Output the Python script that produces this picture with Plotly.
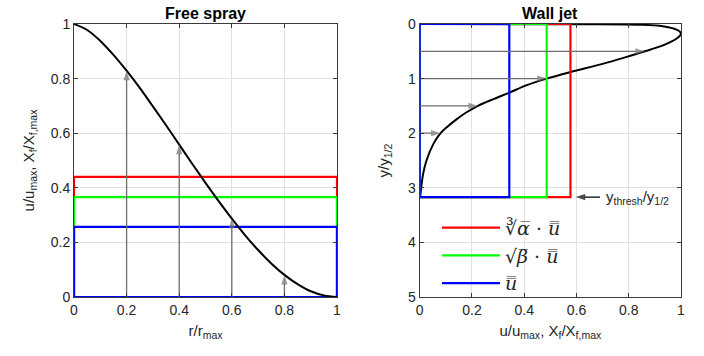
import numpy as np
import plotly.graph_objects as go
from plotly.subplots import make_subplots

# ---- Free spray: radial profile u/u_max vs r/r_max ----
spray_r = [0.0, 0.05, 0.10, 0.15, 0.20, 0.25, 0.30, 0.35, 0.40, 0.45, 0.50,
           0.55, 0.60, 0.65, 0.70, 0.75, 0.80, 0.85, 0.90, 0.95, 1.0]
spray_u = [1.0, 0.978, 0.938, 0.887, 0.829, 0.766, 0.698, 0.629, 0.558, 0.487, 0.418,
           0.351, 0.287, 0.227, 0.172, 0.123, 0.081, 0.047, 0.021, 0.006, 0.0]
spray_arrow_r = [0.2, 0.4, 0.6, 0.8]

# ---- Wall jet: wall-normal profile y/y_1/2 vs u/u_max ----
jet_y = [0.0, 0.005, 0.015, 0.04, 0.08, 0.12, 0.18, 0.26, 0.34, 0.42, 0.50, 0.62,
         0.73, 0.88, 1.0, 1.12, 1.26, 1.38, 1.50, 1.63, 1.76, 1.88, 2.0, 2.2, 2.5,
         2.75, 3.03, 3.17]
jet_u = [0.0, 0.60, 0.85, 0.93, 0.97, 0.99, 1.0, 0.985, 0.955, 0.915, 0.862, 0.78,
         0.70, 0.577, 0.486, 0.41, 0.342, 0.28, 0.223, 0.175, 0.137, 0.106, 0.080,
         0.052, 0.026, 0.013, 0.005, 0.002]
jet_arrow_y = [0.5, 1.0, 1.5, 2.0]
y_thresh = 3.17

# ---- Threshold levels (red, green, blue) ----
level_colors = ["#ff0000", "#00ff00", "#0000ff"]
spray_levels = [0.44, 0.366, 0.257]
jet_levels = [0.577, 0.486, 0.343]
level_names = ["∛<i>α̅</i> · <i>u̿</i>", "√<i>β̅</i> · <i>u̿</i>", "<i>u̿</i>"]

axis_span = [0.0, 1.0]

TXT = "#262626"
GRID = "#e0e0e0"
FRAME = "#3a3a3a"
ARROW = "#6e6e6e"
FONT = "Liberation Sans, Arial, sans-serif"
SERIF = "DejaVu Serif, Liberation Serif, serif"


def arrow_trace(xs, ys, color, xa, ya):
    """Line from the first point to the second, with an arrowhead at the second."""
    return go.Scatter(x=xs, y=ys, mode="lines+markers", xaxis=xa, yaxis=ya,
                      line=dict(color=color, width=1.3),
                      marker=dict(symbol="arrow", angleref="previous", size=[0, 10],
                                  color=color, line=dict(width=0)),
                      showlegend=False, hoverinfo="skip")


fig = make_subplots(rows=1, cols=2)

# Free spray rectangles: from r=0 to r=1, height = level
x0, x1 = axis_span
for h, c in zip(spray_levels, level_colors):
    fig.add_trace(go.Scatter(x=[x0, x1, x1, x0, x0], y=[0, 0, h, h, 0], mode="lines",
                             line=dict(color=c, width=2.2), showlegend=False,
                             hoverinfo="skip"), row=1, col=1)
fig.add_trace(go.Scatter(x=spray_r, y=spray_u, mode="lines",
                         line=dict(color="black", width=2, shape="spline"),
                         showlegend=False, hoverinfo="skip"), row=1, col=1)

# Wall jet: profile then rectangles bounded by y_thresh
fig.add_trace(go.Scatter(x=jet_u, y=jet_y, mode="lines",
                         line=dict(color="black", width=2, shape="spline"),
                         showlegend=False, hoverinfo="skip"), row=1, col=2)
for u, c, name in zip(jet_levels, level_colors, level_names):
    fig.add_trace(go.Scatter(x=[0, 0, u, u, 0], y=[y_thresh, 0, 0, y_thresh, y_thresh],
                             mode="lines", line=dict(color=c, width=2.2), name=name,
                             hoverinfo="skip"), row=1, col=2)

# Arrows from the axis to the profile
spray_tips = np.interp(spray_arrow_r, spray_r, spray_u)
for r, t in zip(spray_arrow_r, spray_tips):
    fig.add_trace(arrow_trace([r, r], [0, t], ARROW, "x", "y"))
jet_tips = np.interp(jet_arrow_y, jet_y, jet_u)
for yv, t in zip(jet_arrow_y, jet_tips):
    fig.add_trace(arrow_trace([0, t], [yv, yv], ARROW, "x2", "y2"))

# y_thresh marker
fig.add_trace(arrow_trace([0.69, max(jet_levels) + 0.02], [y_thresh, y_thresh],
                          "black", "x2", "y2"))
fig.add_annotation(x=0.705, y=y_thresh, xref="x2", yref="y2", xanchor="left",
                   yanchor="middle", showarrow=False,
                   text="y<sub>thresh</sub>/y<sub>1/2</sub>",
                   font=dict(family=FONT, size=15, color=TXT))

axis_common = dict(showgrid=True, gridcolor=GRID, gridwidth=1, zeroline=False,
                   showline=True, linecolor=FRAME, linewidth=1, mirror="ticks",
                   ticks="inside", ticklen=4, tickcolor=FRAME,
                   tickfont=dict(family=FONT, size=14, color=TXT))

fig.update_xaxes(axis_common)
fig.update_yaxes(axis_common)

fig.update_xaxes(range=[0, 1], dtick=0.2, domain=[0, 0.4333], row=1, col=1,
                 title=dict(text="r/r<sub>max</sub>", font=dict(family=FONT, size=15, color=TXT),
                            standoff=8))
fig.update_yaxes(range=[0, 1], dtick=0.2, row=1, col=1,
                 title=dict(text="u/u<sub>max</sub>, X<sub>f</sub>/X<sub>f,max</sub>",
                            font=dict(family=FONT, size=15, color=TXT), standoff=12))
fig.update_xaxes(range=[0, 1], dtick=0.2, domain=[0.5695, 1], row=1, col=2,
                 title=dict(text="u/u<sub>max</sub>, X<sub>f</sub>/X<sub>f,max</sub>",
                            font=dict(family=FONT, size=15, color=TXT), standoff=8))
fig.update_yaxes(range=[5, 0], dtick=1, row=1, col=2,
                 title=dict(text="y/y<sub>1/2</sub>", font=dict(family=FONT, size=15, color=TXT),
                            standoff=14))

fig.add_annotation(x=0.2167, y=1.0, xref="paper", yref="paper", xanchor="center",
                   yanchor="bottom", showarrow=False, text="<b>Free spray</b>",
                   font=dict(family=FONT, size=16, color="black"))
fig.add_annotation(x=0.7848, y=1.0, xref="paper", yref="paper", xanchor="center",
                   yanchor="bottom", showarrow=False, text="<b>Wall jet</b>",
                   font=dict(family=FONT, size=16, color="black"))

fig.update_layout(
    width=704, height=356,
    margin=dict(l=74, r=23, t=24, b=59),
    paper_bgcolor="white", plot_bgcolor="white",
    legend=dict(x=0.598, y=0.323, xanchor="left", yanchor="top", itemwidth=58,
                bgcolor="rgba(0,0,0,0)", borderwidth=0,
                font=dict(family=SERIF, size=19, color=TXT)),
    showlegend=True,
)

fig.write_html("out.html")
